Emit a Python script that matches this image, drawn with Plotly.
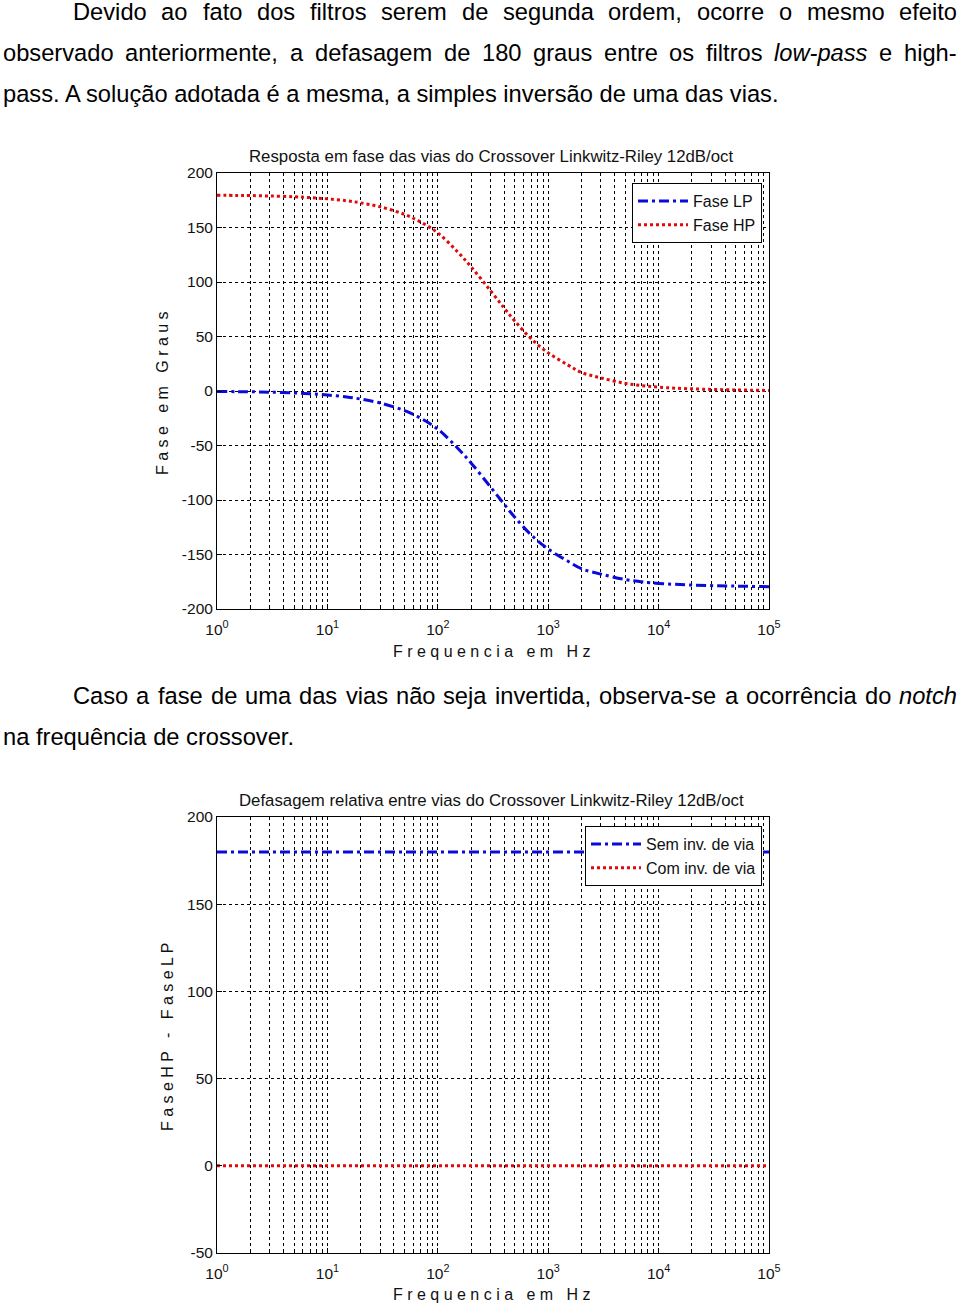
import plotly.graph_objects as go

# ---------------- data ----------------
freq = [1, 1.5, 2, 3, 5, 7, 10, 15, 20, 30, 50, 70, 100, 150, 200, 300, 400, 500,
        700, 1000, 1500, 2000, 3000, 5000, 7000, 10000, 20000, 50000, 100000]
fase_lp = [-0.4, -0.6, -0.7, -1.1, -1.8, -2.6, -3.7, -5.5, -7.4, -11, -18, -25, -35,
           -52, -66, -88, -104, -116, -132, -145, -156, -163, -168, -173, -175,
           -176.5, -178, -179, -179.5]
fase_hp = [179.6, 179.4, 179.3, 178.9, 178.2, 177.4, 176.3, 174.5, 172.6, 169, 162,
           155, 145, 128, 114, 92, 76, 64, 48, 35, 24, 17, 12, 7, 5, 3.5, 2, 1, 0.5]

freq2 = [1, 10, 100, 1000, 10000, 100000]
sem_inv = [180, 180, 180, 180, 180, 180]
com_inv = [0, 0, 0, 0, 0, 0]

y1_ticks = [-200, -150, -100, -50, 0, 50, 100, 150, 200]
y2_ticks = [-50, 0, 50, 100, 150, 200]
x_major = [1, 10, 100, 1000, 10000, 100000]
x_labels = ["10<sup>0</sup>", "10<sup>1</sup>", "10<sup>2</sup>", "10<sup>3</sup>",
            "10<sup>4</sup>", "10<sup>5</sup>"]
x_minor_mult = [2, 3, 4, 5, 6, 7, 8, 9]

title1 = "Resposta em fase das vias do Crossover Linkwitz-Riley 12dB/oct"
title2 = "Defasagem relativa entre vias do Crossover Linkwitz-Riley 12dB/oct"
xlabel = "F r e q u e n c i a   e m   H z"
ylabel1 = "F a s e   e m   G r a u s"
ylabel2 = "F a s e H P   -   F a s e L P"

para1 = [
    [("Devido", 0), ("ao", 0), ("fato", 0), ("dos", 0), ("filtros", 0), ("serem", 0),
     ("de", 0), ("segunda", 0), ("ordem,", 0), ("ocorre", 0), ("o", 0), ("mesmo", 0),
     ("efeito", 0)],
    [("observado", 0), ("anteriormente,", 0), ("a", 0), ("defasagem", 0), ("de", 0),
     ("180", 0), ("graus", 0), ("entre", 0), ("os", 0), ("filtros", 0), ("low-pass", 1),
     ("e", 0), ("high-", 0)],
]
para1_last = "pass. A solução adotada é a mesma, a simples inversão de uma das vias."
para2 = [
    [("Caso", 0), ("a", 0), ("fase", 0), ("de", 0), ("uma", 0), ("das", 0), ("vias", 0),
     ("não", 0), ("seja", 0), ("invertida,", 0), ("observa-se", 0), ("a", 0),
     ("ocorrência", 0), ("do", 0), ("notch", 1)],
]
para2_last = "na frequência de crossover."

# ---------------- layout helpers ----------------
W, H = 960, 1311
FONT = "Liberation Sans, Arial, sans-serif"
BLUE = "#0a0adc"
RED = "#e00a0a"

def px(x):
    return x / W

def py(y):
    return 1 - y / H

AW = {' ': 278, 'a': 556, 'b': 556, 'c': 500, 'd': 556, 'e': 556, 'f': 278, 'g': 556,
      'h': 556, 'i': 222, 'j': 222, 'k': 500, 'l': 222, 'm': 833, 'n': 556, 'o': 556,
      'p': 556, 'q': 556, 'r': 333, 's': 500, 't': 278, 'u': 556, 'v': 500, 'w': 722,
      'x': 500, 'y': 500, 'z': 500, 'A': 667, 'C': 722, 'D': 722, '.': 278, ',': 278,
      '-': 333, 'ç': 500, 'ã': 556, 'é': 556, 'ê': 556}

def tw(s, size):
    return sum(AW.get(c, 556) for c in s) / 1000 * size

TS = 23.7
annotations = []

def justify(words, left, right, ycen):
    total = sum(tw(w, TS) for w, _ in words)
    gap = (right - left - total) / (len(words) - 1)
    x = left
    for w, it in words:
        txt = f"<i>{w}</i>" if it else w
        annotations.append(dict(x=px(x - 2), y=py(ycen), xref="paper", yref="paper",
                                text=txt, showarrow=False, xanchor="left",
                                yanchor="middle",
                                font=dict(family=FONT, size=TS, color="black")))
        x += tw(w, TS) + gap

def plain(text, left, ycen):
    annotations.append(dict(x=px(left - 2), y=py(ycen), xref="paper", yref="paper",
                            text=text, showarrow=False, xanchor="left", yanchor="middle",
                            font=dict(family=FONT, size=TS, color="black")))

justify(para1[0], 73, 957, 12)
justify(para1[1], 3, 957, 53)
plain(para1_last, 3, 94)
justify(para2[0], 73, 957, 696)
plain(para2_last, 3, 737)

def text_ann(text, x, y, size, angle=0):
    annotations.append(dict(x=px(x), y=py(y), xref="paper", yref="paper", text=text,
                            showarrow=False, xanchor="center", yanchor="middle",
                            textangle=angle,
                            font=dict(family=FONT, size=size, color="#111")))

text_ann(title1, 491, 157, 16.8)
text_ann(title2, 491, 800, 16.8)
text_ann(xlabel, 491, 651, 16)
text_ann(xlabel, 491, 1294, 16)
text_ann(ylabel1, 162, 393, 16, -90)
text_ann(ylabel2, 167, 1037, 16, -90)

# ---------------- figure ----------------
fig = go.Figure()
fig.add_trace(go.Scatter(x=freq, y=fase_lp, name="Fase LP", mode="lines",
                         line=dict(color=BLUE, width=3, dash="10px,4px,3px,4px",
                                   shape="spline"),
                         xaxis="x", yaxis="y", legend="legend"))
fig.add_trace(go.Scatter(x=freq, y=fase_hp, name="Fase HP", mode="lines",
                         line=dict(color=RED, width=3, dash="3px,3px", shape="spline"),
                         xaxis="x", yaxis="y", legend="legend"))
fig.add_trace(go.Scatter(x=freq2, y=sem_inv, name="Sem inv. de via", mode="lines",
                         line=dict(color=BLUE, width=3, dash="10px,4px,3px,4px"),
                         xaxis="x2", yaxis="y2", legend="legend2"))
fig.add_trace(go.Scatter(x=freq2, y=com_inv, name="Com inv. de via", mode="lines",
                         line=dict(color=RED, width=3, dash="3px,3px"),
                         xaxis="x2", yaxis="y2", legend="legend2"))

x_minor = [m * d for d in x_major[:-1] for m in x_minor_mult]

common = dict(showgrid=True, gridcolor="black", gridwidth=1, griddash="3px,3px",
              showline=True, linecolor="black", linewidth=1, mirror=True,
              zeroline=False, ticks="inside", ticklen=5, tickcolor="black",
              automargin=False,
              tickfont=dict(family=FONT, size=15.5, color="#111"))

xdom = [px(217), px(769)]
xa = dict(type="log", range=[0, 5], tickmode="array", tickvals=x_major,
          ticktext=x_labels, domain=xdom, ticklabelstandoff=6,
          minor=dict(tickmode="array", tickvals=x_minor, showgrid=True,
                     gridcolor="black", gridwidth=1, griddash="3px,3px",
                     ticks="inside", ticklen=3, tickcolor="black"),
          **common)
fig.update_layout(
    width=W, height=H, autosize=False,
    margin=dict(l=0, r=0, t=0, b=0, pad=0),
    paper_bgcolor="white", plot_bgcolor="white",
    xaxis=dict(anchor="y", **xa),
    yaxis=dict(anchor="x", range=[-200, 200], tickmode="array", tickvals=y1_ticks,
               ticktext=[str(v) for v in y1_ticks],
               domain=[py(609), py(173)], **common),
    xaxis2=dict(anchor="y2", **xa),
    yaxis2=dict(anchor="x2", range=[-50, 200], tickmode="array", tickvals=y2_ticks,
                ticktext=[str(v) for v in y2_ticks],
                domain=[py(1253), py(817)], **common),
    legend=dict(x=px(762), y=py(183), xanchor="right", yanchor="top",
                bgcolor="white", bordercolor="black", borderwidth=1,
                font=dict(family=FONT, size=16, color="#111"), itemwidth=50,
                tracegroupgap=0),
    legend2=dict(x=px(762), y=py(826), xanchor="right", yanchor="top",
                 bgcolor="white", bordercolor="black", borderwidth=1,
                 font=dict(family=FONT, size=16, color="#111"), itemwidth=50,
                 tracegroupgap=0),
    annotations=annotations,
    showlegend=True,
)

fig.write_html("out.html", config={"displayModeBar": False},
               post_script="document.body.style.margin='0';"
                           "document.body.style.overflow='hidden';")
